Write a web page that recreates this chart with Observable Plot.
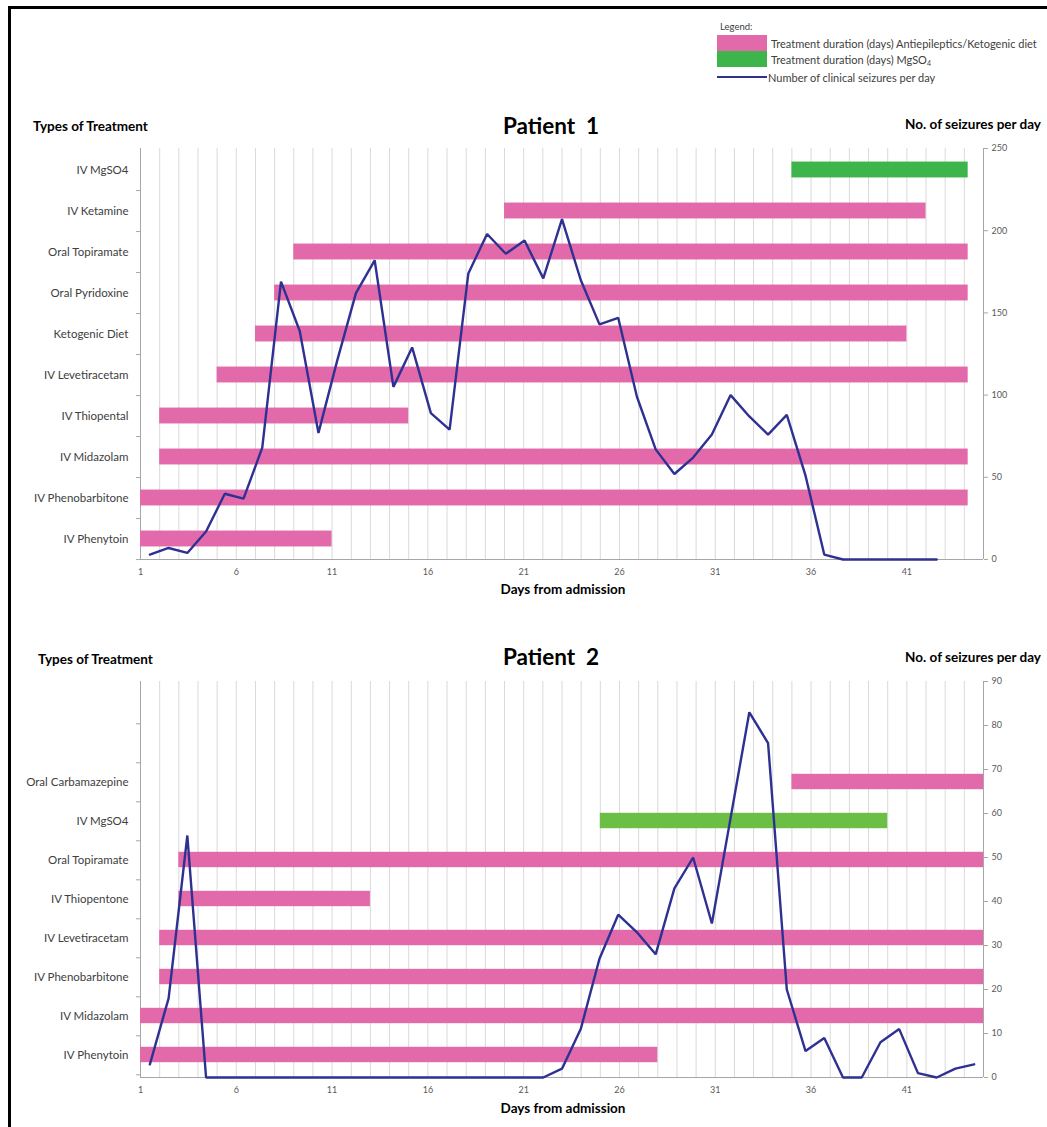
<!DOCTYPE html>
<html><head><meta charset="utf-8">
<script src="https://cdn.jsdelivr.net/npm/d3@7"></script>
<script src="https://cdn.jsdelivr.net/npm/@observablehq/plot@0.6"></script>
<style>
body{margin:0;background:#fff;font-family:Lato,"Open Sans",sans-serif;}
#root{position:relative;width:1047px;height:1127px;overflow:hidden;background:#fff;}
.t{position:absolute;white-space:pre;line-height:1;}
.pl{position:absolute;left:0;}
</style></head><body><div id="root"></div>
<script>
// ---------- data ----------
const xTicks = [1, 6, 11, 16, 21, 26, 31, 36, 41];
const gridDays = [1,2,3,4,5,6,7,8,9,10,11,12,13,14,15,16,17,18,19,20,21,22,23,24,25,26,27,28,29,30,31,32,33,34,35,36,37,38,39,40,41,42,43,44,45];

// Patient 1 treatments (top to bottom)
const p1Treatments = ["IV MgSO4","IV Ketamine","Oral Topiramate","Oral Pyridoxine","Ketogenic Diet","IV Levetiracetam","IV Thiopental","IV Midazolam","IV Phenobarbitone","IV Phenytoin"];
const p1Start = [35, 20, 9, 8, 7, 5, 2, 2, 1, 1];
const p1End   = [44.2, 42, 44.2, 44.2, 41, 44.2, 15, 44.2, 44.2, 11];
const p1Type  = ["MgSO4","AED","AED","AED","AED","AED","AED","AED","AED","AED"];
const p1Days = [1,2,3,4,5,6,7,8,9,10,11,12,13,14,15,16,17,18,19,20,21,22,23,24,25,26,27,28,29,30,31,32,33,34,35,36,37,38,39,40,41,42,43];
const p1Seizures = [3,7,4,17,40,37,68,169,139,77,121,162,182,105,129,89,79,174,198,186,194,171,207,170,143,147,99,67,52,62,76,100,87,76,88,51,3,0,0,0,0,0,0];
const p1YTicks = [0, 50, 100, 150, 200, 250];

// Patient 2 treatments (top to bottom; two empty rows at top)
const p2Treatments = ["blank1","blank2","Oral Carbamazepine","IV MgSO4","Oral Topiramate","IV Thiopentone","IV Levetiracetam","IV Phenobarbitone","IV Midazolam","IV Phenytoin"];
const p2Start = [null, null, 35, 25, 3, 3, 2, 2, 1, 1];
const p2End   = [null, null, 45, 40, 45, 13, 45, 45, 45, 28];
const p2Type  = [null, null, "AED","MgSO4","AED","AED","AED","AED","AED","AED"];
const p2Days = [1,2,3,4,5,6,7,8,9,10,11,12,13,14,15,16,17,18,19,20,21,22,23,24,25,26,27,28,29,30,31,32,33,34,35,36,37,38,39,40,41,42,43,44,45];
const p2Seizures = [3,18,55,0,0,0,0,0,0,0,0,0,0,0,0,0,0,0,0,0,0,0,2,11,27,37,33,28,43,50,35,59,83,76,20,6,9,0,0,8,11,1,0,2,3];
const p2YTicks = [0, 10, 20, 30, 40, 50, 60, 70, 80, 90];

// ---------- styles ----------
const PINK = "#e36aaa";
const GREEN1 = "#3eb54b";
const GREEN2 = "#6cbf45";
const LINE = "#2e3192";
const FONT = "Lato, 'Open Sans', sans-serif";

const root = document.getElementById("root");

function text(str, x, y, {size = 11, weight = 700, anchor = 0, color = "#000"} = {}) {
  const d = document.createElement("div");
  d.className = "t";
  d.textContent = str;
  d.style.left = x + "px";
  d.style.top = y + "px";
  d.style.fontSize = size + "px";
  d.style.fontWeight = weight;
  d.style.color = color;
  d.style.transform = `translate(${-anchor * 100}%, -50%)`;
  root.appendChild(d);
  return d;
}

function addPlot(svg, top) {
  svg.classList.add("pl");
  svg.style.top = top + "px";
  svg.style.position = "absolute";
  svg.style.left = "0px";
  root.appendChild(svg);
}

const xDomain = [1, 45];

function drawPatient({top, frameH, treatments, starts, ends, types, green, days, seizures, yTicks, barH}) {
  const marginTop = 8, marginBottom = 31;
  const height = marginTop + frameH + marginBottom;
  const bw = frameH / treatments.length;
  const inset = (bw - barH) / 2;
  const rows = treatments.map((c, i) => ({cat: c, start: starts[i], end: ends[i], type: types[i]}))
    .filter(r => r.start != null);
  const common = {
    width: 1047, height, marginLeft: 140, marginRight: 64, marginTop, marginBottom,
  };
  const bars = Plot.plot({
    ...common,
    style: {fontFamily: FONT, background: "transparent", overflow: "visible"},
    x: {domain: xDomain},
    y: {domain: treatments, padding: 0},
    color: {type: "identity"},
    marks: [
      Plot.ruleX(gridDays, {stroke: "#d9d9d9", strokeWidth: 1}),
      Plot.ruleX(xDomain, {stroke: "#a6a6a6", strokeWidth: 1}),
      Plot.barX(rows, {x1: "start", x2: "end", y: "cat",
        fill: d => d.type === "MgSO4" ? green : PINK, insetTop: inset, insetBottom: inset}),
      Plot.axisX({ticks: xTicks, tickSize: 0, tickPadding: 9, fontSize: 9, color: "#595959", label: null}),
      Plot.axisY({tickSize: 0, tickPadding: 12, fontSize: 11.5, color: "#404040", label: null,
        tickFormat: d => d.startsWith("blank") ? "" : d}),
      Plot.axisY({tickSize: 4, text: null, dy: bw / 2, stroke: "#a6a6a6", label: null})
    ]
  });
  addPlot(bars, top);

  const pts = days.map((d, i) => ({day: d, n: seizures[i]}));
  const line = Plot.plot({
    ...common,
    style: {fontFamily: FONT, background: "transparent", overflow: "visible"},
    x: {domain: [0.5, 45.5], axis: null},
    y: {domain: [yTicks[0], yTicks[yTicks.length - 1]]},
    marks: [
      Plot.ruleY([yTicks[0]], {stroke: "#a6a6a6"}),
      Plot.line(pts, {x: "day", y: "n", stroke: LINE, strokeWidth: 2.4, strokeLinejoin: "miter"}),
      Plot.axisY({anchor: "right", ticks: yTicks, tickSize: 4, tickPadding: 4, fontSize: 9,
        color: "#595959", stroke: "#a6a6a6", label: null})
    ]
  });
  addPlot(line, top);
}

// ---------- legend ----------
text("Legend:", 720, 27, {size: 9.5, weight: 400, color: "#404040"});
(function legend() {
  const mk = (x, y, w, h, c) => {
    const d = document.createElement("div");
    d.style.cssText = `position:absolute;left:${x}px;top:${y}px;width:${w}px;height:${h}px;background:${c}`;
    root.appendChild(d);
  };
  mk(717, 35, 50, 16, PINK);
  mk(717, 51, 50, 16, GREEN1);
  mk(717, 76, 50, 2, LINE);
})();
text("Treatment duration (days) Antiepileptics/Ketogenic diet", 771, 43, {size: 11, weight: 400, color: "#404040"});
const mg = text("", 771, 60, {size: 11, weight: 400, color: "#404040"});
mg.innerHTML = "Treatment duration (days) MgSO<sub style=\"font-size:7px;vertical-align:-2px\">4</sub>";
text("Number of clinical seizures per day", 768, 77, {size: 11, weight: 400, color: "#404040"});

// ---------- border ----------
(function border() {
  const a = document.createElement("div");
  a.style.cssText = "position:absolute;left:8px;top:6px;width:1047px;height:2.5px;background:#000";
  root.appendChild(a);
  const b = document.createElement("div");
  b.style.cssText = "position:absolute;left:8px;top:6px;width:2.5px;height:1130px;background:#000";
  root.appendChild(b);
})();

// ---------- patient 1 ----------
text("Types of Treatment", 33, 127, {size: 13.5});
text("Patient  1", 551, 126, {size: 22.5, weight: 700, anchor: 0.5});
text("No. of seizures per day", 1041, 125, {size: 13.5, anchor: 1});
text("Days from admission", 563, 590, {size: 13.5, anchor: 0.5});
drawPatient({top: 140, frameH: 411, treatments: p1Treatments, starts: p1Start, ends: p1End, types: p1Type,
  green: GREEN1, days: p1Days, seizures: p1Seizures, yTicks: p1YTicks, barH: 16});

// ---------- patient 2 ----------
text("Types of Treatment", 38, 660, {size: 13.5});
text("Patient  2", 551, 657, {size: 22.5, weight: 700, anchor: 0.5});
text("No. of seizures per day", 1041, 658, {size: 13.5, anchor: 1});
text("Days from admission", 563, 1109, {size: 13.5, anchor: 0.5});
drawPatient({top: 673, frameH: 396, treatments: p2Treatments, starts: p2Start, ends: p2End, types: p2Type,
  green: GREEN2, days: p2Days, seizures: p2Seizures, yTicks: p2YTicks, barH: 16});
</script></body></html>
